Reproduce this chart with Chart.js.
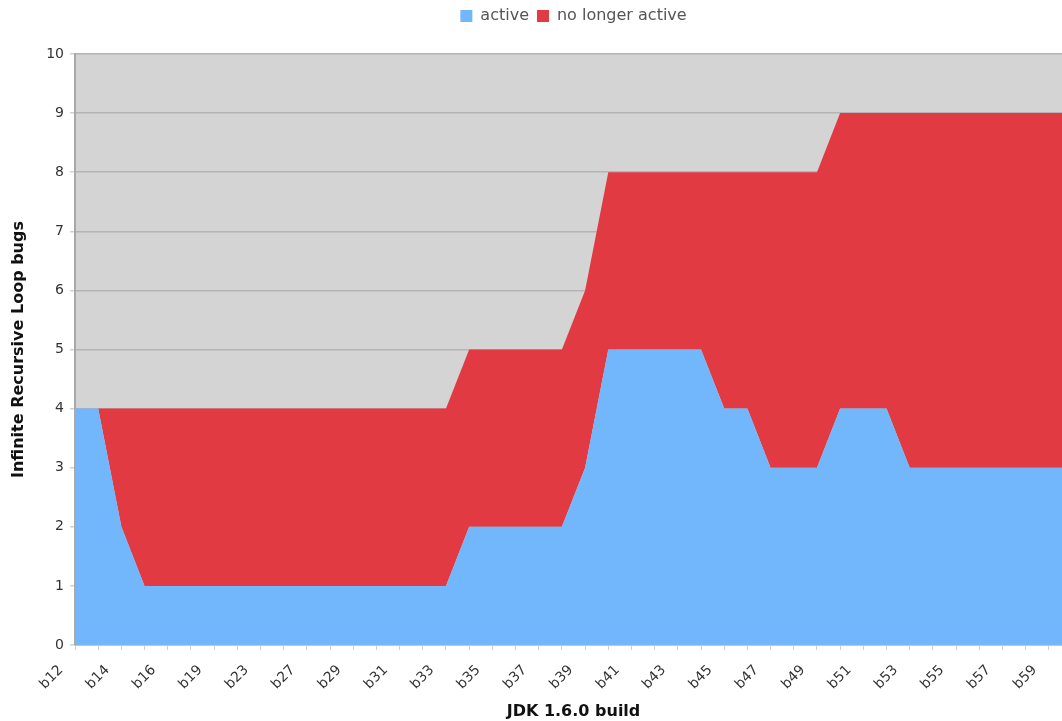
<!DOCTYPE html>
<html>
<head>
<meta charset="utf-8">
<script src="https://cdn.jsdelivr.net/npm/chart.js@4"></script>
<style>
  html, body { margin: 0; padding: 0; background: #fff; overflow: hidden; }
  #wrap { position: relative; width: 1100px; height: 721px; }
</style>
</head>
<body>
<div id="wrap"><canvas id="c"></canvas></div>
<script>
const categories = ['b12','b13','b14','b15','b16','b17','b19','b21','b23','b25','b27','b28','b29','b30','b31','b32','b33','b34','b35','b36','b37','b38','b39','b40','b41','b42','b43','b44','b45','b46','b47','b48','b49','b50','b51','b52','b53','b54','b55','b56','b57','b58','b59','b60'];
const active =       [4,4,2,1,1,1,1,1,1,1,1,1,1,1,1,1,1,2,2,2,2,2,3,5,5,5,5,5,4,4,3,3,3,4,4,4,3,3,3,3,3,3,3,3];
const noLongerActive=[0,0,2,3,3,3,3,3,3,3,3,3,3,3,3,3,3,3,3,3,3,3,3,3,3,3,3,3,4,4,5,5,5,5,5,5,6,6,6,6,6,6,6,6];
const yTicks = [0,1,2,3,4,5,6,7,8,9,10];

const FONT = "'DejaVu Sans', Verdana, sans-serif";

const plotBg = {
  id: 'plotBg',
  beforeDraw(chart) {
    const {ctx, chartArea: a} = chart;
    ctx.save();
    ctx.fillStyle = '#d4d4d4';
    ctx.fillRect(a.left, a.top, a.right - a.left, a.bottom - a.top);
    ctx.restore();
  }
};
const legendGap = {
  id: 'legendGap',
  beforeInit(chart) {
    const fit = chart.legend.fit;
    chart.legend.fit = function() { fit.bind(chart.legend)(); this.height += 20; };
  }
};

new Chart(document.getElementById('c'), {
  type: 'line',
  data: {
    labels: categories,
    datasets: [
      { label: 'active', data: active, backgroundColor: '#72b6fc', borderWidth: 0, pointRadius: 0, fill: 'origin', tension: 0 },
      { label: 'no longer active', data: noLongerActive, backgroundColor: '#e13a42', borderWidth: 0, pointRadius: 0, fill: '-1', tension: 0 }
    ]
  },
  options: {
    responsive: true,
    maintainAspectRatio: false,
    animation: false,
    layout: { padding: { top: 0, right: 28, bottom: 0, left: 0 } },
    plugins: {
      legend: {
        position: 'top',
        fullSize: false,
        labels: { boxWidth: 12, boxHeight: 12, padding: 8, color: '#555', font: { family: FONT, size: 16 } }
      },
      tooltip: { enabled: false }
    },
    scales: {
      x: {
        offset: false,
        grid: { display: true, drawOnChartArea: false, drawTicks: true, tickLength: 5, color: '#d0d0d0' },
        border: { display: true, color: '#c8c8c8' },
        ticks: {
          autoSkip: false, maxRotation: 45, minRotation: 45, color: '#333', padding: 12,
          font: { family: FONT, size: 14 },
          labelOffset: -14,
          callback: (v, i) => (i % 2 === 0 ? categories[i] : '')
        },
        title: { display: true, text: 'JDK 1.6.0 build', color: '#111', font: { family: FONT, size: 16, weight: 'bold' }, padding: { top: 2, bottom: 0 } },
        afterFit(s) { s.height = 76; }
      },
      y: {
        stacked: true,
        min: 0, max: 10,
        afterBuildTicks(s) { s.ticks = yTicks.map(v => ({ value: v })); },
        grid: { color: '#b4b4b4', lineWidth: 1.5, tickLength: 5, tickColor: '#d0d0d0' },
        border: { display: true, color: '#a8a8a8', width: 2 },
        ticks: { color: '#333', padding: 6, font: { family: FONT, size: 14 } },
        title: { display: true, text: 'Infinite Recursive Loop bugs', color: '#111', font: { family: FONT, size: 16, weight: 'bold' }, padding: { top: 9, bottom: 2 } },
        afterFit(s) { s.width = 75; }
      }
    }
  },
  plugins: [plotBg, legendGap]
});
</script>
</body>
</html>
